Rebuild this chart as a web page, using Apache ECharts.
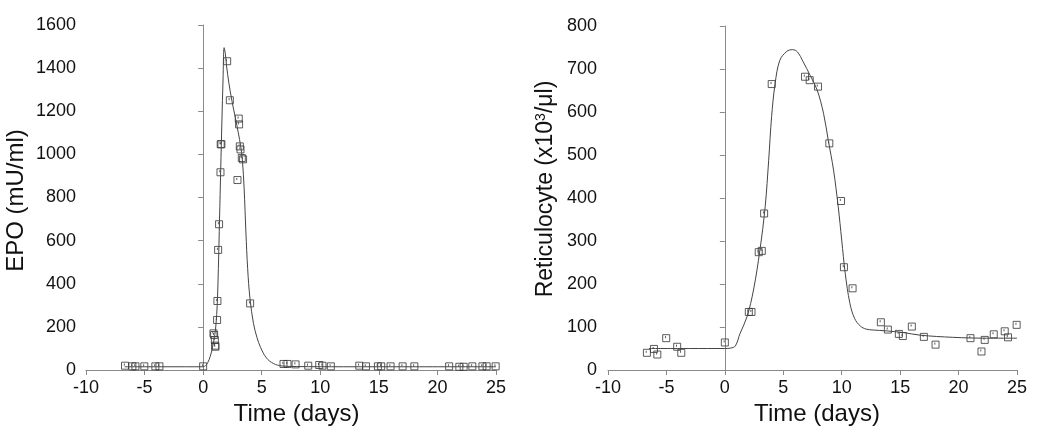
<!DOCTYPE html>
<html><head><meta charset="utf-8">
<script src="https://cdn.jsdelivr.net/npm/echarts@6/dist/echarts.min.js"></script>
<style>html,body{margin:0;padding:0;background:#fff}#c{width:1050px;height:437px}</style>
</head><body><div id="c"></div>
<script>
// ---- EPO (left panel) ----
const epoX = [-6.67,-6.04,-5.78,-5.02,-4.08,-3.73,0.0,0.88,0.94,1.0,1.03,1.05,1.19,1.22,1.28,1.36,1.48,1.5,1.56,2.05,2.28,3.04,3.07,2.93,3.13,3.19,3.3,3.41,4.01,6.86,7.2,7.89,8.97,9.91,10.19,10.9,13.33,13.9,14.92,15.2,16.0,17.03,18.03,21.0,21.87,22.24,22.98,23.84,24.2,24.97];
const epoY = [20,17,17,17,17,17,17,170,162,139,113,108,232,320,557,676,917,1047,1047,1432,1251,1166,1139,881,1037,1023,983,977,309,28,28,26,20,23,20,17,20,17,17,17,17,17,17,17,15,15,17,17,17,17];
const epoFitX = [-6.7,-3,0,0.2,0.4,0.6,0.8,1.0,1.1,1.2,1.3,1.4,1.5,1.6,1.7,1.79,1.9,2.0,2.2,2.45,2.75,3.0,3.2,3.35,3.5,3.65,3.8,4.0,4.3,4.6,4.9,5.4,6.0,6.7,8,12,18,25];
const epoFitY = [15,15,15,20,35,62,105,165,215,300,470,700,930,1150,1350,1495,1465,1410,1330,1250,1170,1100,1040,975,840,640,470,330,215,150,105,56,30,19,16,15,15,15];

// ---- Reticulocyte (right panel) ----
const retX = [-6.67,-6.07,-5.78,-5.02,-4.08,-3.73,0.0,2.05,2.28,2.9,3.16,3.36,4.01,6.86,7.26,7.97,8.94,9.94,10.19,10.93,13.35,13.95,14.89,15.23,16.0,17.03,18.03,21.02,21.96,22.24,23.01,23.95,24.23,24.97];
const retY = [40,49,36,74,54,40,64,135,135,274,277,364,665,682,674,659,527,393,239,190,111,94,84,79,101,77,59,74,43,70,83,90,76,105];
const retFitX = [-6.5,-3,0,0.5,0.9,1.3,1.9,2.45,3.0,3.45,3.75,4.0,4.3,4.7,5.3,5.8,6.2,6.7,7.3,7.9,8.45,8.85,9.3,9.7,10.0,10.3,10.7,11.1,11.6,12.1,12.7,13.8,15.3,16.7,19.5,22.4,25];
const retFitY = [50,50,50,51,56,85,124,186,279,380,488,589,666,720,741,745,740,717,685,651,596,534,465,380,302,225,155,120,102,95,93,91,87,81,76,74,74];

const xTicks = {min:-10, max:25, interval:5};
const epoTicks = {min:0, max:1600, interval:200};
const retTicks = {min:0, max:800, interval:100};

const FONT = 'Liberation Sans, Arial, Helvetica, sans-serif';
const axisGray = '#8a8a8a';
const ink = '#444';
const markerPath = 'path://M0 0L10 0L10 10L0 10Z M4 2L4 5';

function zip(a,b){return a.map((v,i)=>[v,b[i]]);}
const plain = v => String(v);

function xAxis(gi, padLeft){
  return {type:'value', gridIndex:gi, min:xTicks.min, max:xTicks.max, interval:xTicks.interval,
    name:'Time (days)', nameLocation:'middle', nameGap:29,
    nameTextStyle:{fontFamily:FONT, fontSize:24, color:'#111', padding:[0,0,0,padLeft]},
    axisLine:{show:true, onZero:false, lineStyle:{color:axisGray, width:1}},
    axisTick:{show:true, length:5, lineStyle:{color:axisGray}},
    axisLabel:{fontFamily:FONT, fontSize:18, color:'#111', margin:9, formatter:plain},
    splitLine:{show:false}};
}
function yAxis(gi, t, name, gap, fs, pad, margin, rich){
  const o = {type:'value', gridIndex:gi, min:t.min, max:t.max, interval:t.interval,
    name:name, nameLocation:'middle', nameGap:gap, nameRotate:90,
    nameTextStyle:{fontFamily:FONT, fontSize:fs, color:'#111', padding:pad},
    axisLine:{show:true, lineStyle:{color:axisGray, width:1}},
    axisTick:{show:true, length:5, lineStyle:{color:axisGray}},
    axisLabel:{fontFamily:FONT, fontSize:18, color:'#111', margin:margin, formatter:plain},
    splitLine:{show:false}};
  if(rich) o.nameTextStyle.rich = rich;
  return o;
}

const chart = echarts.init(document.getElementById('c'), null, {renderer:'canvas'});
chart.setOption({
  backgroundColor:'#fff',
  animation:false,
  grid:[
    {left:86, right:554, top:25, bottom:67},
    {left:608, right:33, top:26, bottom:67}
  ],
  xAxis:[xAxis(0, 11), xAxis(1, 9)],
  yAxis:[
    yAxis(0, epoTicks, 'EPO (mU/ml)', 58, 24, [0,6,0,0], 10),
    yAxis(1, retTicks, 'Reticulocyte (x10{sup|3}/μl)', 51, 23, [0,0,0,18], 11,
      {sup:{fontFamily:FONT, fontSize:14, color:'#111', verticalAlign:'top', lineHeight:14}})
  ],
  series:[
    {type:'line', xAxisIndex:0, yAxisIndex:0, data:zip(epoFitX, epoFitY), smooth:0.35, showSymbol:false,
      lineStyle:{color:ink, width:1}, z:3},
    {type:'scatter', xAxisIndex:0, yAxisIndex:0, data:zip(epoX, epoY), symbol:markerPath, symbolSize:7,
      itemStyle:{color:'none', borderColor:'#333', borderWidth:1}, z:2},
    {type:'line', xAxisIndex:1, yAxisIndex:1, data:zip(retFitX, retFitY), smooth:0.35, showSymbol:false,
      lineStyle:{color:ink, width:1}, z:3},
    {type:'scatter', xAxisIndex:1, yAxisIndex:1, data:zip(retX, retY), symbol:markerPath, symbolSize:7,
      itemStyle:{color:'none', borderColor:'#333', borderWidth:1}, z:2}
  ]
});
</script></body></html>
